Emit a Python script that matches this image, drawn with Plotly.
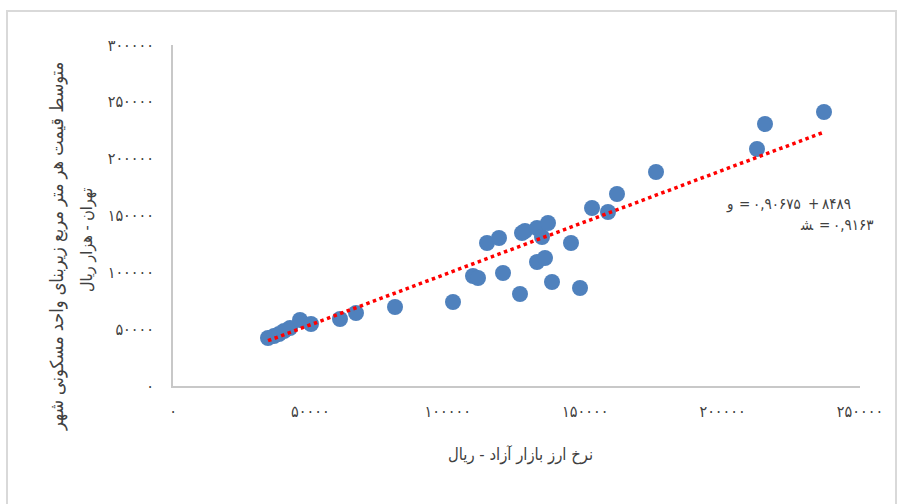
import plotly.graph_objects as go

# Data (free-market exchange rate [rial] vs. avg price per m2 in Tehran [thousand rial])
exchange_rate = [34570, 36750, 38570, 40390, 42580, 46220, 50220, 60770, 66590, 80790,
                 101890, 109170, 110990, 114270, 118630, 120090, 126270, 127000, 128090,
                 132460, 134280, 136460, 132460, 135370, 137920, 144830, 148110, 152480,
                 158300, 161570, 175770, 212520, 215430, 236900]
price_per_m2 = [42230, 43990, 45750, 48390, 51030, 58070, 54550, 58950, 64230, 69500,
                73900, 96780, 95020, 125810, 130210, 99420, 80940, 134610, 136370,
                139010, 131090, 143410, 109090, 112610, 91500, 125810, 86220, 156600,
                153090, 168920, 188280, 208510, 230510, 241060]

TREND_SLOPE = 0.90675
TREND_INTERCEPT = 8489

x_tickvals = [0, 50000, 100000, 150000, 200000, 250000]
x_ticktext = ["۰", "۵۰۰۰۰", "۱۰۰۰۰۰", "۱۵۰۰۰۰", "۲۰۰۰۰۰", "۲۵۰۰۰۰"]
y_tickvals = [0, 50000, 100000, 150000, 200000, 250000, 300000]
y_ticktext = ["۰", "۵۰۰۰۰", "۱۰۰۰۰۰", "۱۵۰۰۰۰", "۲۰۰۰۰۰", "۲۵۰۰۰۰", "۳۰۰۰۰۰"]

x_title = "نرخ ارز بازار آزاد - ریال"
y_title_line1 = "متوسط قیمت هر متر مربع زیربنای واحد مسکونی شهر"
y_title_line2 = "تهران - هزار ریال"
# equation tokens, in visual (left-to-right) order
eq1_tokens = ["و", "=", "۰,۹۰۶۷۵", "+", "۸۴۸۹"]
eq2_tokens = ["ﺸ", "=", "۰,۹۱۶۳"]

FONT = "DejaVu Sans Condensed, DejaVu Sans, sans-serif"
TXT = "#404040"

tx = [min(exchange_rate), max(exchange_rate)]
ty = [TREND_SLOPE * v + TREND_INTERCEPT for v in tx]

fig = go.Figure()
fig.add_trace(go.Scatter(
    x=exchange_rate, y=price_per_m2, mode="markers",
    marker=dict(color="#4F81BD", size=16, line=dict(width=0)),
    showlegend=False, hoverinfo="x+y"))
fig.add_trace(go.Scatter(
    x=tx, y=ty, mode="lines",
    line=dict(color="#FF0000", width=3.5, dash="dot"),
    showlegend=False, hoverinfo="skip"))

W, H = 901, 504
L, R, T, B = 173, 41, 45, 118
pw, ph = W - L - R, H - T - B

def px_x(p):
    return (p - L) / pw

def px_y(p):
    return (H - B - p) / ph

def ann(text, x, y, size, xanchor="center", angle=0):
    return dict(text=text, xref="paper", yref="paper", x=px_x(x), y=px_y(y),
                showarrow=False, textangle=angle, font=dict(size=size, color=TXT),
                xanchor=xanchor, yanchor="middle")

# left edges (px) of the equation tokens
eq1_x = [724, 737, 751, 806, 820]
eq2_x = [798, 817, 831]

annotations = [
    ann(x_title, 520, 455, 16.5),
    ann(y_title_line1, 57, 247, 18, angle=-90),
    ann(y_title_line2, 87, 240, 16, angle=-90),
]
for t, x in zip(eq1_tokens, eq1_x):
    annotations.append(ann(t, x, 204, 15, xanchor="left"))
for t, x in zip(eq2_tokens, eq2_x):
    annotations.append(ann(t, x, 225, 15, xanchor="left"))

fig.update_layout(
    width=W, height=H,
    margin=dict(l=L, r=R, t=T, b=B),
    paper_bgcolor="white", plot_bgcolor="white",
    font=dict(family=FONT, size=14, color=TXT),
    xaxis=dict(range=[0, 250000], tickvals=x_tickvals, ticktext=x_ticktext,
               showgrid=False, zeroline=False, showline=True, automargin=False,
               linecolor="#C8C8C8", linewidth=1.5, ticks="",
               ticklabelstandoff=10, tickfont=dict(size=16, color=TXT)),
    yaxis=dict(range=[0, 300000], tickvals=y_tickvals, ticktext=y_ticktext,
               showgrid=False, zeroline=False, showline=True, automargin=False,
               linecolor="#C8C8C8", linewidth=1.5, ticks="",
               ticklabelstandoff=14, tickfont=dict(size=16, color=TXT)),
    shapes=[dict(type="rect", xref="paper", yref="paper",
                 x0=px_x(7), x1=px_x(896), y0=px_y(520), y1=px_y(11),
                 line=dict(color="#D9D9D9", width=2), fillcolor="rgba(0,0,0,0)",
                 layer="below")],
    annotations=annotations,
)

fig.write_html("out.html", config={"displayModeBar": False},
               post_script="document.body.style.margin='0';")
